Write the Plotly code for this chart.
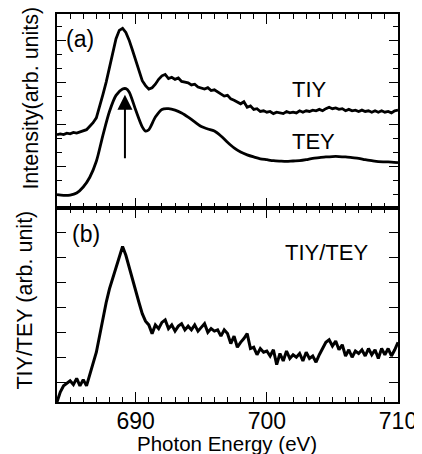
import plotly.graph_objects as go

# ---------------- data ----------------
# Panel (a): TIY (noisy) on a 0.25 eV grid
tiy_energy = [684.0 + 0.25 * i for i in range(105)]
tiy_values = [5.24, 5.30, 5.25, 5.35, 5.30, 5.40, 5.35, 5.45, 5.50, 5.60,
              5.85, 6.10, 6.45, 7.20, 8.10, 9.00, 10.0, 11.1, 12.1, 12.7,
              12.85, 12.55, 12.0, 11.3, 10.55, 9.85, 9.10, 8.75, 8.50, 8.60,
              8.85, 9.20, 9.45, 9.55, 9.25, 9.35, 9.20, 9.30, 9.05, 9.00,
              8.95, 8.80, 8.85, 8.65, 8.60, 8.50, 8.60, 8.40, 8.45, 8.30,
              8.20, 8.00, 8.05, 7.80, 7.70, 7.55, 7.45, 7.60, 7.20, 7.30,
              7.05, 7.10, 6.90, 6.95, 6.85, 6.90, 6.75, 6.85, 6.80, 6.75,
              6.90, 6.80, 6.85, 6.80, 6.95, 6.85, 6.95, 6.90, 7.00, 6.95,
              7.05, 6.95, 7.10, 7.20, 7.10, 7.15, 7.05, 7.10, 6.95, 7.05,
              6.95, 7.00, 6.90, 7.00, 6.90, 6.95, 6.85, 6.95, 6.85, 6.95,
              6.85, 6.90, 6.80, 6.95, 7.00]

# Panel (a): TEY (smooth)
tey_energy = [684.0, 684.5, 685.0, 685.5, 686.0, 686.5, 687.0, 687.5, 688.0, 688.5,
              689.0, 689.25, 689.5, 690.0, 690.5, 690.75, 691.0, 691.5, 692.0, 692.5,
              693.0, 693.5, 694.0, 694.5, 695.0, 695.5, 696.0, 696.5, 697.0, 697.5,
              698.0, 698.5, 699.0, 699.5, 700.0, 700.5, 701.0, 701.5, 702.0, 702.5,
              703.0, 703.5, 704.0, 704.5, 705.0, 705.5, 706.0, 706.5, 707.0, 707.5,
              708.0, 708.5, 709.0, 709.5, 710.0]
tey_values = [0.96, 0.90, 0.92, 1.07, 1.50, 2.20, 3.34, 5.20, 6.90, 8.05,
              8.50, 8.53, 8.30, 7.00, 5.80, 5.50, 5.60, 6.50, 7.05, 7.10,
              7.00, 6.80, 6.50, 6.15, 5.82, 5.65, 5.50, 5.15, 4.70, 4.30,
              4.00, 3.80, 3.65, 3.52, 3.45, 3.38, 3.35, 3.33, 3.36, 3.38,
              3.45, 3.55, 3.60, 3.65, 3.68, 3.68, 3.65, 3.60, 3.55, 3.45,
              3.38, 3.32, 3.30, 3.28, 3.25]

# Panel (b): TIY/TEY ratio on a 0.25 eV grid
ratio_energy = [684.0 + 0.25 * i for i in range(105)]
ratio_values = [0.20, 0.60, 0.85, 0.95, 1.05, 0.90, 1.15, 0.85, 1.10, 0.85,
                1.35, 1.75, 2.20, 2.90, 3.50, 4.20, 4.75, 5.20, 5.60, 6.10,
                6.45, 6.10, 5.60, 5.10, 4.60, 4.20, 3.75, 3.45, 3.30, 2.95,
                3.30, 3.15, 3.40, 3.50, 3.15, 3.30, 3.05, 3.25, 3.35, 3.10,
                3.25, 3.10, 3.30, 3.05, 3.20, 3.35, 3.00, 3.15, 3.05, 3.10,
                2.85, 3.10, 2.95, 2.55, 2.85, 2.40, 2.60, 2.75, 2.95, 2.35,
                2.40, 2.10, 2.35, 2.20, 2.25, 2.05, 2.30, 1.70, 2.15, 1.85,
                2.25, 1.95, 2.10, 2.00, 2.15, 1.85, 2.20, 1.95, 2.05, 1.80,
                2.10, 2.35, 2.60, 2.70, 2.45, 2.65, 2.30, 2.50, 2.05, 2.30,
                2.00, 2.25, 2.15, 2.30, 2.05, 2.35, 2.10, 2.30, 1.95, 2.35,
                2.10, 2.35, 2.05, 2.30, 2.60]

x_tickvals = [690, 700, 710]
x_ticktext = ["690", "700", "710"]

arrow_energy = 689.18
arrow_head = 8.1
arrow_tail = 3.45

# ---------------- figure ----------------
FONT = "Liberation Sans, Arial, sans-serif"

fig = go.Figure()
fig.add_trace(go.Scatter(x=tiy_energy, y=tiy_values, mode="lines",
                         line=dict(color="black", width=2.8),
                         xaxis="x2", yaxis="y2", showlegend=False))
fig.add_trace(go.Scatter(x=tey_energy, y=tey_values, mode="lines",
                         line=dict(color="black", width=2.8, shape="spline", smoothing=0.8),
                         xaxis="x2", yaxis="y2", showlegend=False))
fig.add_trace(go.Scatter(x=ratio_energy, y=ratio_values, mode="lines",
                         line=dict(color="black", width=3.0),
                         xaxis="x", yaxis="y", showlegend=False))

common_x = dict(range=[684, 710], showline=True, linecolor="black", linewidth=1.5,
                mirror="ticks", ticks="inside", ticklen=10, tickwidth=1.3,
                tickcolor="black", tickvals=x_tickvals, showgrid=False, zeroline=False,
                minor=dict(ticks="inside", ticklen=5, tickwidth=1.2, dtick=1,
                           tick0=684, tickcolor="black", showgrid=False))

# the page body adds an 8px offset, so the figure is sized 8px smaller
fig.update_layout(
    width=414, height=446,
    margin=dict(l=49, r=24, t=4, b=52),
    plot_bgcolor="white", paper_bgcolor="white",
    font=dict(family=FONT, color="black"),
    xaxis=dict(**common_x, anchor="y", ticktext=x_ticktext, ticklabelstandoff=-2,
               tickfont=dict(size=23, family=FONT, color="black")),
    xaxis2=dict(**common_x, anchor="y2", matches="x", showticklabels=False),
    yaxis=dict(domain=[0, 0.5], range=[0.2, 8.0], showline=True, linecolor="black",
               linewidth=1.5, mirror="ticks", ticks="inside", ticklen=9, tickwidth=1.3,
               tickcolor="black", tickvals=[1, 2, 3, 4, 5, 6, 7], showticklabels=False,
               showgrid=False, zeroline=False, anchor="x"),
    yaxis2=dict(domain=[0.5, 1], range=[0, 13.87], showline=True, linecolor="black",
                linewidth=1.5, mirror="ticks", ticks="inside", ticklen=9, tickwidth=1.3,
                tickcolor="black", tickvals=[0, 3, 6, 9, 12], showticklabels=False,
                showgrid=False, zeroline=False, anchor="x2",
                minor=dict(ticks="inside", ticklen=5, tickwidth=1.2,
                           tickvals=[1, 2, 4, 5, 7, 8, 10, 11, 13],
                           tickcolor="black", showgrid=False)),
)

ann = []
# axis titles
ann.append(dict(text="Intensity(arb. units)", xref="paper", yref="paper",
                x=-0.0762, y=0.782, xanchor="center", yanchor="middle", textangle=-90,
                showarrow=False, font=dict(size=21.5, family=FONT, color="black")))
ann.append(dict(text="TIY/TEY (arb. unit)", xref="paper", yref="paper",
                x=-0.0938, y=0.2615, xanchor="center", yanchor="middle", textangle=-90,
                showarrow=False, font=dict(size=21.5, family=FONT, color="black")))
ann.append(dict(text="Photon Energy (eV)", xref="paper", yref="paper",
                x=0.4985, y=-0.108, xanchor="center", yanchor="middle",
                showarrow=False, font=dict(size=20.5, family=FONT, color="black")))
# panel labels
ann.append(dict(text="(a)", xref="x2", yref="y2", x=685.75, y=12.09,
                showarrow=False, font=dict(size=23, family=FONT, color="black")))
ann.append(dict(text="(b)", xref="x", yref="y", x=686.2, y=6.94,
                showarrow=False, font=dict(size=23, family=FONT, color="black")))
ann.append(dict(text="TIY", xref="x2", yref="y2", x=701.78, y=8.48, xanchor="left",
                showarrow=False, font=dict(size=22, family=FONT, color="black")))
ann.append(dict(text="TEY", xref="x2", yref="y2", x=701.78, y=4.76, xanchor="left",
                showarrow=False, font=dict(size=22, family=FONT, color="black")))
ann.append(dict(text="TIY/TEY", xref="x", yref="y", x=704.53, y=6.2,
                showarrow=False, font=dict(size=22, family=FONT, color="black")))
# arrow
ann.append(dict(text="", xref="x2", yref="y2", x=arrow_energy, y=arrow_head,
                axref="x2", ayref="y2", ax=arrow_energy, ay=arrow_tail,
                showarrow=True, arrowhead=2, arrowsize=1.5, arrowwidth=2,
                arrowcolor="black"))
fig.update_layout(annotations=ann)

fig.write_html("out.html")
